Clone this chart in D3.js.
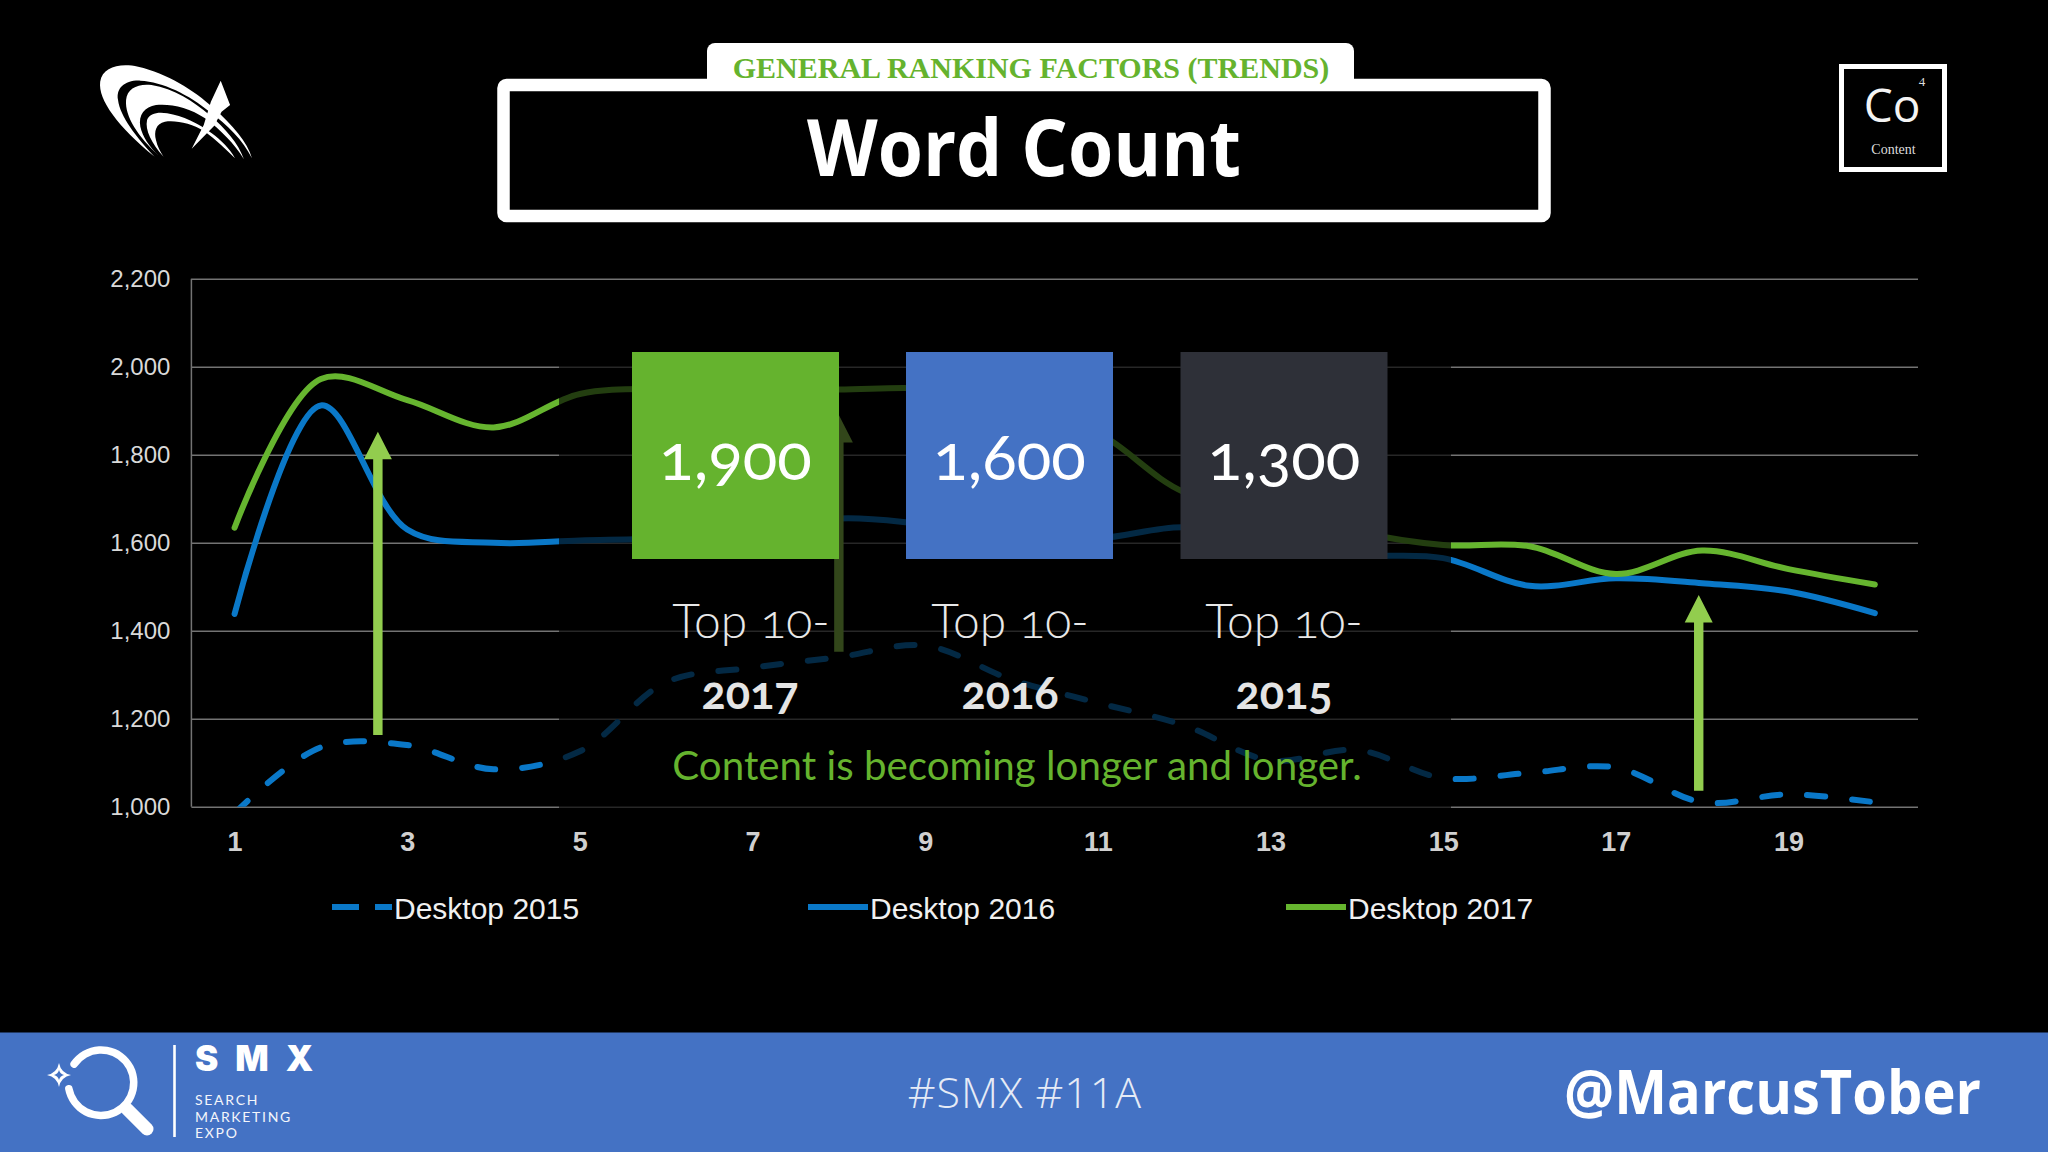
<!DOCTYPE html>
<html>
<head>
<meta charset="utf-8">
<script src="https://cdn.jsdelivr.net/npm/d3@7"></script>
<style>
  html, body { margin: 0; padding: 0; background: #000; overflow: hidden; }
  svg { display: block; }
</style>
</head>
<body>
<svg id="chart" width="2048" height="1152"></svg>
<script>
// values
const categories = d3.range(1, 21);
const xTickLabels = [1, 3, 5, 7, 9, 11, 13, 15, 17, 19];
const yTickLabels = [1000, 1200, 1400, 1600, 1800, 2000, 2200];

const desktop2015 = [985, 1135, 1140, 1085, 1126, 1283, 1316, 1340, 1366, 1289, 1236, 1185, 1105, 1129, 1065, 1077, 1089, 1010, 1028, 1010];
const desktop2016 = [1438, 1912, 1630, 1600, 1605, 1610, 1620, 1655, 1642, 1620, 1610, 1635, 1600, 1572, 1565, 1502, 1519, 1508, 1489, 1440];
const desktop2017 = [1634, 1972, 1924, 1862, 1938, 1950, 1950, 1948, 1950, 1920, 1850, 1715, 1680, 1625, 1595, 1592, 1529, 1582, 1540, 1505];

const seriesNames = ["Desktop 2015", "Desktop 2016", "Desktop 2017"];
const seriesColors = ["#0a78c8", "#0a78c8", "#66b52f"];

// arrows in data units: category position, tail value, tip value
const arrowAt = [2.66, 8.0, 17.96];
const arrowFrom = [1163, 1352, 1036];
const arrowTo = [1852, 1890, 1481];

const boxValues = ["1,900", "1,600", "1,300"];
const boxYears = ["2017", "2016", "2015"];
const boxColors = ["#65b32e", "#4472c4", "#2e3038"];

const MARGIN = { LEFT: 191.4, RIGHT: 1918, TOP: 278.7, BOTTOM: 806.7 };

const OLD_NUM = "font-feature-settings:'onum' 1;font-variant-numeric:oldstyle-nums";

let svg = d3.select("#chart");
svg.append("rect").attr("width", 2048).attr("height", 1152).attr("fill", "#000");

let xScale = d3.scaleLinear().domain([0.5, 20.5]).range([MARGIN.LEFT, MARGIN.RIGHT]);
let yScale = d3.scaleLinear().domain([1000, 2200]).range([MARGIN.BOTTOM, MARGIN.TOP]);

// grid + axes
let yAxis = d3.axisLeft(yScale)
  .tickValues(yTickLabels)
  .tickSize(-(MARGIN.RIGHT - MARGIN.LEFT))
  .tickPadding(21)
  .tickFormat(d3.format(","));
let yG = svg.append("g").attr("transform", "translate(" + MARGIN.LEFT + ",0)").call(yAxis);
yG.select(".domain").remove();
yG.selectAll(".tick line").attr("stroke", "#737373").attr("stroke-width", 1.5);
yG.selectAll(".tick text")
  .attr("fill", "#d9d9d9")
  .attr("font-family", "'Liberation Sans'")
  .attr("font-size", 24);

svg.append("line")
  .attr("x1", MARGIN.LEFT).attr("x2", MARGIN.LEFT)
  .attr("y1", MARGIN.TOP).attr("y2", MARGIN.BOTTOM)
  .attr("stroke", "#737373").attr("stroke-width", 1.5);

let xAxis = d3.axisBottom(xScale).tickValues(xTickLabels).tickSize(0).tickPadding(25);
let xG = svg.append("g").attr("transform", "translate(0," + MARGIN.BOTTOM + ")").call(xAxis);
xG.select(".domain").remove();
xG.selectAll(".tick text")
  .attr("fill", "#d0d0d0")
  .attr("font-family", "'Liberation Sans'")
  .attr("font-weight", "bold")
  .attr("font-size", 27);

// lines
svg.append("clipPath").attr("id", "plot-clip").append("rect")
  .attr("x", MARGIN.LEFT).attr("y", MARGIN.TOP)
  .attr("width", MARGIN.RIGHT - MARGIN.LEFT).attr("height", MARGIN.BOTTOM - MARGIN.TOP);

let line = d3.line()
  .x((d, i) => xScale(categories[i]))
  .y((d) => yScale(d))
  .curve(d3.curveCatmullRom.alpha(0.5));

[desktop2015, desktop2016, desktop2017].forEach(function (values, i) {
  svg.append("path")
    .attr("d", line(values))
    .attr("clip-path", "url(#plot-clip)")
    .attr("fill", "none")
    .attr("stroke", seriesColors[i])
    .attr("stroke-width", 6)
    .attr("stroke-linecap", "round")
    .attr("stroke-dasharray", i == 0 ? "18 27" : null);
});

// green arrows
arrowAt.forEach(function (at, i) {
  let x = xScale(at), y0 = yScale(arrowFrom[i]), y1 = yScale(arrowTo[i]);
  svg.append("path")
    .attr("d", d3.line()([
      [x - 4.7, y0], [x - 4.7, y1 + 27.5], [x - 14, y1 + 27.5], [x, y1],
      [x + 14, y1 + 27.5], [x + 4.7, y1 + 27.5], [x + 4.7, y0],
    ]) + "Z")
    .attr("fill", "#92cd4e");
});

// the dark veil that sits over the middle of the chart
svg.append("rect")
  .attr("x", 559).attr("y", 345).attr("width", 892).attr("height", 467)
  .attr("fill", "#000").attr("opacity", 0.66);

// the three boxes
const boxCenters = [735.5, 1009.5, 1284];
boxValues.forEach(function (v, i) {
  svg.append("rect")
    .attr("x", boxCenters[i] - 103.5).attr("y", 352)
    .attr("width", 207).attr("height", 207)
    .attr("fill", boxColors[i]);
  svg.append("text")
    .attr("x", boxCenters[i]).attr("y", 480)
    .attr("text-anchor", "middle")
    .attr("font-family", "Lato")
    .attr("font-size", 64)
    .attr("fill", "#fff")
    .attr("style", OLD_NUM)
    .text(v);
  svg.append("text")
    .attr("x", [751, 1010, 1284][i]).attr("y", 638)
    .attr("text-anchor", "middle")
    .attr("font-family", "Lato")
    .attr("font-weight", 300)
    .attr("font-size", 48)
    .attr("fill", "#e8e8e8")
    .attr("style", OLD_NUM)
    .text("Top 10-");
  svg.append("text")
    .attr("x", [750, 1010, 1284][i]).attr("y", 709)
    .attr("text-anchor", "middle")
    .attr("font-family", "Lato")
    .attr("font-weight", "bold")
    .attr("font-size", 45)
    .attr("fill", "#e4e4e4")
    .attr("style", OLD_NUM)
    .text(boxYears[i]);
});

svg.append("text")
  .attr("x", 1017).attr("y", 780)
  .attr("text-anchor", "middle")
  .attr("font-family", "Lato")
  .attr("font-size", 40.3)
  .attr("fill", "#65b32e")
  .text("Content is becoming longer and longer.");

// legend
const legendSwatchX = [332, 808, 1286];
seriesNames.forEach(function (name, i) {
  svg.append("line")
    .attr("x1", legendSwatchX[i]).attr("x2", legendSwatchX[i] + 60)
    .attr("y1", 907).attr("y2", 907)
    .attr("stroke", seriesColors[i]).attr("stroke-width", 6)
    .attr("stroke-dasharray", i == 0 ? "27 16 17" : null);
  svg.append("text")
    .attr("x", legendSwatchX[i] + 62).attr("y", 919)
    .attr("font-family", "'Liberation Sans'")
    .attr("font-size", 30)
    .attr("fill", "#f0f0f0")
    .text(name);
});

// title block
svg.append("rect").attr("x", 707).attr("y", 43).attr("width", 647).attr("height", 60).attr("rx", 8).attr("fill", "#fff");
svg.append("rect").attr("x", 503.5).attr("y", 85).attr("width", 1041).attr("height", 131)
  .attr("rx", 3).attr("fill", "#000").attr("stroke", "#fff").attr("stroke-width", 12.5);
svg.append("text")
  .attr("x", 1031).attr("y", 78).attr("text-anchor", "middle")
  .attr("font-family", "'Liberation Serif'").attr("font-weight", "bold")
  .attr("font-size", 30).attr("fill", "#65b32e")
  .text("GENERAL RANKING FACTORS (TRENDS)");
svg.append("text")
  .attr("x", 1024).attr("y", 176).attr("text-anchor", "middle")
  .attr("font-family", "'Open Sans'").attr("font-weight", 700)
  .attr("font-size", 78).attr("fill", "#fff")
  .attr("textLength", 434).attr("lengthAdjust", "spacingAndGlyphs")
  .text("Word Count");

// star logo, top left
let logo = svg.append("g").attr("transform", "translate(60,20) scale(0.4464,0.3333)").attr("fill", "#fff");
logo.append("path").attr("d", "M212,410 C130,320 85,240 90,185 C95,140 135,128 175,140 C240,160 300,210 345,265 C385,315 420,365 430,415 C410,360 375,315 335,275 C290,225 230,185 180,182 C145,180 125,205 130,240 C135,290 170,350 212,410 Z");
logo.append("path").attr("d", "M222,408 C175,350 145,290 148,240 C150,205 175,190 205,195 C255,205 300,245 335,285 C370,325 400,370 412,418 C390,370 360,330 325,295 C290,262 245,250 215,255 C190,260 175,285 180,320 C185,350 200,380 222,408 Z");
logo.append("path").attr("d", "M232,410 C205,370 190,330 195,300 C200,280 220,275 240,280 C275,288 310,310 340,340 C360,360 380,385 392,415 C370,385 350,360 325,335 C295,310 260,300 235,305 C215,310 210,335 215,360 C218,380 225,395 232,410 Z");
logo.append("path").attr("d", "M360,182 L381,255 L362,275 L345,318 L295,386 L322,315 L338,245 Z");

// element box, top right
svg.append("rect").attr("x", 1841.5).attr("y", 66.5).attr("width", 103).attr("height", 103)
  .attr("fill", "none").attr("stroke", "#fff").attr("stroke-width", 5);
svg.append("text").attr("x", 1892).attr("y", 122).attr("text-anchor", "middle")
  .attr("font-family", "'Open Sans'").attr("font-size", 46).attr("fill", "#f4f4f4").text("Co");
svg.append("text").attr("x", 1922).attr("y", 86).attr("text-anchor", "middle")
  .attr("font-family", "'Liberation Serif'").attr("font-size", 13).attr("fill", "#ddd").text("4");
svg.append("text").attr("x", 1893.5).attr("y", 154).attr("text-anchor", "middle")
  .attr("font-family", "'Liberation Serif'").attr("font-size", 14).attr("fill", "#ddd").text("Content");

// footer band
svg.append("rect").attr("x", 0).attr("y", 1032.5).attr("width", 2048).attr("height", 120).attr("fill", "#4472c4");

let arc = d3.arc().innerRadius(29).outerRadius(36.5).cornerRadius(3.5)
  .startAngle(298 * Math.PI / 180).endAngle(626 * Math.PI / 180);
svg.append("path").attr("d", arc()).attr("transform", "translate(101,1082.7)").attr("fill", "#fff");
svg.append("line").attr("x1", 127).attr("y1", 1109).attr("x2", 147).attr("y2", 1129)
  .attr("stroke", "#fff").attr("stroke-width", 13).attr("stroke-linecap", "round");
svg.append("path")
  .attr("d", "M59,1063 Q61,1073 71,1075 Q61,1077 59,1087 Q57,1077 47,1075 Q57,1073 59,1063 Z M59,1070 Q58,1074 54,1075 Q58,1076 59,1080 Q60,1076 64,1075 Q60,1074 59,1070 Z")
  .attr("fill", "#fff").attr("fill-rule", "evenodd");
svg.append("line").attr("x1", 174.5).attr("x2", 174.5).attr("y1", 1045).attr("y2", 1137)
  .attr("stroke", "#fff").attr("stroke-width", 2.6);
svg.append("text").attr("x", 195).attr("y", 1070.5)
  .attr("font-family", "Inter").attr("font-weight", 900).attr("font-size", 35)
  .attr("letter-spacing", 17).attr("fill", "#fff").text("SMX");
["SEARCH", "MARKETING", "EXPO"].forEach(function (word, i) {
  svg.append("text").attr("x", 195).attr("y", [1105, 1121.5, 1138][i])
    .attr("font-family", "Lato").attr("font-size", 14)
    .attr("letter-spacing", 1.7).attr("fill", "#f4f6fb").text(word);
});
svg.append("text").attr("x", 1025).attr("y", 1108).attr("text-anchor", "middle")
  .attr("font-family", "'Open Sans'").attr("font-weight", 300).attr("font-size", 43)
  .attr("letter-spacing", 1).attr("fill", "#e6ebf6").text("#SMX #11A");
svg.append("text").attr("x", 1981).attr("y", 1114).attr("text-anchor", "end")
  .attr("font-family", "'Open Sans'").attr("font-weight", 700).attr("font-size", 60)
  .attr("textLength", 417).attr("lengthAdjust", "spacingAndGlyphs")
  .attr("fill", "#fff").text("@MarcusTober");
</script>
</body>
</html>
